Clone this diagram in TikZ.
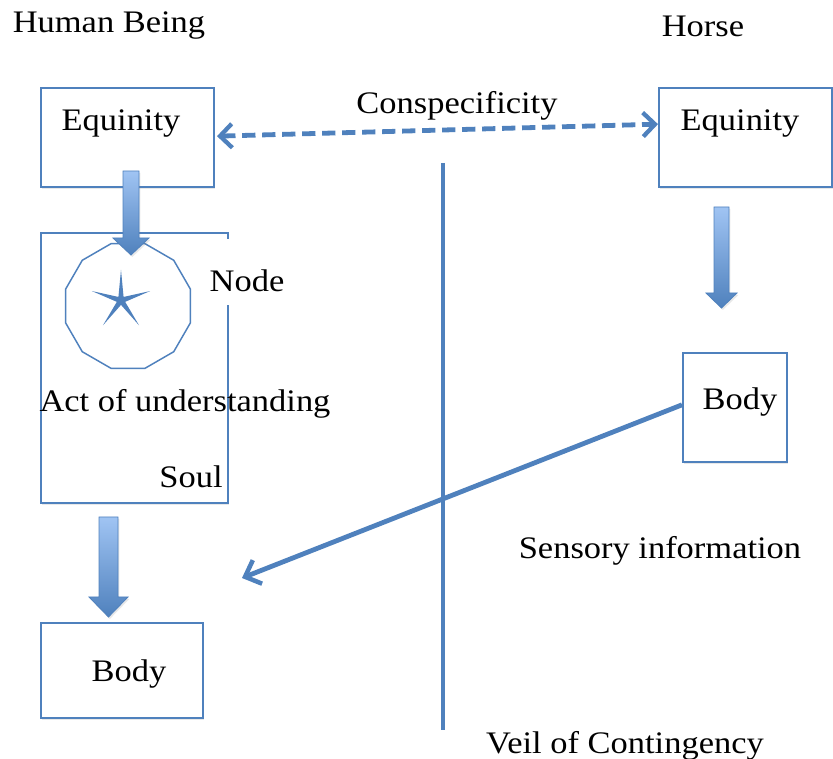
\documentclass[tikz,border=0pt]{standalone}
\usepackage{fontspec}
\setmainfont{Liberation Serif}[FakeStretch=1.1]
\usetikzlibrary{shapes.geometric,arrows.meta,shadows}
\definecolor{bl}{RGB}{79,129,189}
\definecolor{bll}{RGB}{160,196,243}
\begin{document}
\begin{tikzpicture}[x=0.75pt,y=-0.75pt,
  font=\fontsize{23.5}{27}\selectfont,
  box/.style={draw=bl, line width=1.5pt, fill=white, inner sep=0pt,
    drop shadow={opacity=0.18, shadow xshift=1pt, shadow yshift=-1.5pt}},
  lbl/.style={inner sep=0pt, text=black},
  fatarrow/.style={top color=bll, bottom color=bl, draw=bl, line width=0.6pt,
    drop shadow={opacity=0.18, shadow xshift=1pt, shadow yshift=-1.5pt}},
  thickline/.style={draw=bl, line width=3.6pt}
]
\useasboundingbox (0,0) rectangle (833,759);

% boxes
\node[box, minimum width=129.75pt, minimum height=74.25pt] (eqL) at (127.5,137.5) {};
\node[box, minimum width=129.75pt, minimum height=74.25pt] (eqR) at (745.5,137.5) {};
\node[box, minimum width=140.25pt, minimum height=202.5pt] (soul) at (134.5,368) {};
\node[box, minimum width=121.5pt, minimum height=71.25pt] (bodyL) at (122,670.5) {};
\node[box, minimum width=78pt, minimum height=81.75pt] (bodyR) at (735,407.5) {};

% white patch behind "Node"
\node[fill=white, inner sep=0pt, minimum width=69pt, minimum height=49.5pt] (nodebg) at (244,272) {};

% polygon and star
\node[regular polygon, regular polygon sides=12, draw=bl, line width=1.1pt,
  minimum size=97pt, inner sep=0pt] (poly) at (128,306) {};
\node[star, star points=5, star point ratio=7, fill=bl, draw=none,
  minimum size=46pt, inner sep=0pt] (starn) at (121,300.5) {};

% labels
\node[lbl] (tHuman) at (109,26) {Human Being};
\node[lbl] (tHorse) at (703,26) {Horse};
\node[lbl] (tEqL) at (121,124) {Equinity};
\node[lbl] (tEqR) at (740,124) {Equinity};
\node[lbl] (tConsp) at (457,106) {Conspecificity};
\node[lbl] (tNode) at (247,281) {Node};
\node[lbl] (tAct) at (185,404) {Act of understanding};
\node[lbl] (tSoul) at (191,477) {Soul};
\node[lbl] (tBodyL) at (129,674) {Body};
\node[lbl] (tBodyR) at (740,402) {Body};
\node[lbl] (tSens) at (660,551) {Sensory information};
\node[lbl] (tVeil) at (625,746) {Veil of Contingency};

% dashed double arrow
\coordinate (dR) at ([yshift=10pt]eqR.west);
\draw[draw=bl, line width=3.6pt, dash pattern=on 10pt off 5pt,
  {Straight Barb[length=9pt,width=18pt,line width=3.2pt]}-{Straight Barb[length=9pt,width=18pt,line width=3.2pt]}]
  ([xshift=1.5pt,yshift=1pt]eqL.east) -- (dR);

% veil line
\coordinate (veilTop) at (443,163);
\coordinate (veilBot) at (443,730);
\draw[thickline] (veilTop) -- (veilBot);

% sensory arrow
\coordinate (sensEnd) at (242,578);
\draw[thickline, -{Straight Barb[length=10pt,width=19pt,line width=3.4pt]}]
  ([yshift=2pt]bodyR.west) -- (sensEnd);

% fat arrows
\path[fatarrow] (123,171) -- (139,171) -- (139,238) -- (149,238) -- (131,255)
  -- (113,238) -- (123,238) -- cycle;
\path[fatarrow] (99,517) -- (118,517) -- (118,597) -- (128,597) -- (108.5,617)
  -- (89,597) -- (99,597) -- cycle;
\path[fatarrow] (714,207) -- (729,207) -- (729,293) -- (737,293) -- (721.5,308)
  -- (706,293) -- (714,293) -- cycle;
\end{tikzpicture}
\end{document}
